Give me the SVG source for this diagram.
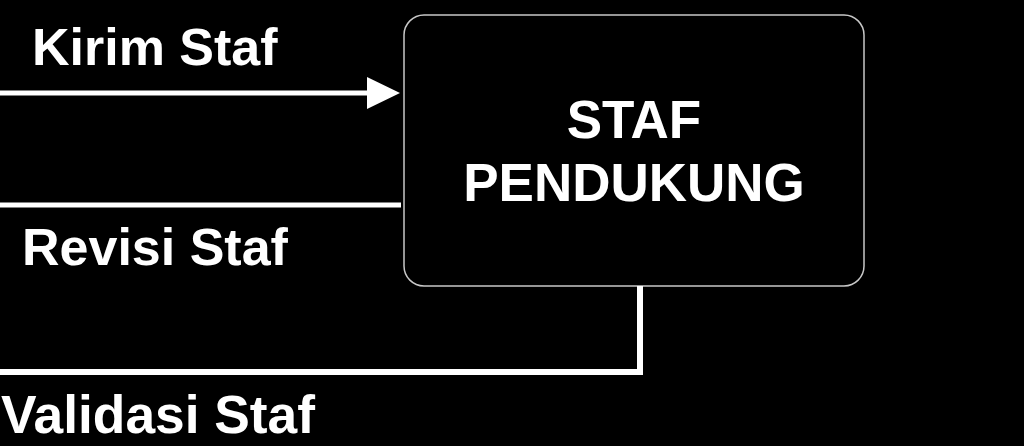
<svg xmlns="http://www.w3.org/2000/svg" width="1024" height="446" viewBox="0 0 1024 446">
<style>
.lbl{font-family:"Liberation Sans",Arial,sans-serif;font-weight:bold;fill:#fff}
.ln{stroke:#fff;fill:none}
</style>
<rect x="0" y="0" width="1024" height="446" fill="#000"/>
<g id="node-staf">
<rect x="404" y="15" width="460" height="271" rx="20" ry="20" fill="#000" stroke="#c8c8c8" stroke-width="1.5"/>
<text class="lbl" x="634" y="138" font-size="53" text-anchor="middle">STAF</text>
<text class="lbl" x="634" y="201" font-size="53" text-anchor="middle">PENDUKUNG</text>
</g>
<g id="connectors">
<line class="ln" x1="0" y1="93" x2="368" y2="93" stroke-width="5"/>
<polygon points="367,77 400,93 367,109" fill="#fff"/>
<line class="ln" x1="0" y1="205" x2="401" y2="205" stroke-width="5"/>
<polyline class="ln" points="640,286 640,372 0,372" stroke-width="6"/>
</g>
<g id="labels">
<text class="lbl" x="32" y="65" font-size="52">Kirim Staf</text>
<text class="lbl" x="22" y="265" font-size="52">Revisi Staf</text>
<text class="lbl" x="1" y="433" font-size="54" textLength="314" lengthAdjust="spacingAndGlyphs">Validasi Staf</text>
</g>
</svg>
